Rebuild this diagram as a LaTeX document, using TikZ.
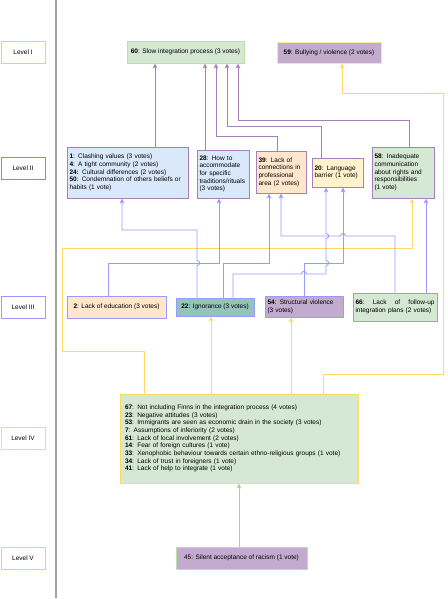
\documentclass[tikz,border=0pt]{standalone}
\usepackage{fontspec}
\setmainfont{Liberation Sans}
\usetikzlibrary{arrows.meta}
\definecolor{sepgray}{HTML}{A3A3A3}
\definecolor{greenfill}{HTML}{D5E8D4}
\definecolor{greenline}{HTML}{B9E0A5}
\definecolor{greenarrow}{HTML}{A9D18E}
\definecolor{purplefill}{HTML}{C3ABD0}
\definecolor{mauveline}{HTML}{A680B8}
\definecolor{bluefill}{HTML}{DAE8FC}
\definecolor{blueline}{HTML}{9999FF}
\definecolor{orangefill}{HTML}{FFE6CC}
\definecolor{yellowfill}{HTML}{FFF2CC}
\definecolor{yellowline}{HTML}{FFD966}
\definecolor{paleyellow}{HTML}{FFE599}
\definecolor{tealfill}{HTML}{93C4B9}
\tikzset{
  small/.style={font=\fontsize{6.5}{7.7}\selectfont},
  lvl/.style={small, draw, line width=0.8pt, fill=white, minimum width=44pt, minimum height=22pt, inner sep=0pt},
  box/.style={small, draw, line width=0.9pt, inner xsep=2.5pt, inner ysep=1pt},
  multi/.style={box, align=left},
  tip/.style={-{Stealth[length=5pt,width=4.5pt,inset=1.2pt]}, line width=0.9pt},
  parr/.style={tip, draw=mauveline},
  barr/.style={tip, draw=blueline},
  yarr/.style={tip, draw=yellowline},
  garr/.style={tip, draw=greenarrow}
}
\begin{document}
\begin{tikzpicture}[x=1pt,y=-1pt]
    \useasboundingbox (0,0) rectangle (447,599);
    \draw[sepgray, line width=1.2pt] (56,0) -- (56,598);
    \foreach \lab/\y/\col [count=\k] in {I/52/greenline, II/168/mauveline, III/307/blueline, IV/438.5/yellowline, V/558/greenline}
      \node[lvl, draw=\col] (lv\k) at (23,\y) {Level \lab};
    \node[box, fill=greenfill, draw=greenline, minimum width=117pt, minimum height=22pt] (n60) at (185.5,52) {\textbf{60}: Slow integration process (3 votes)};
    \node[box, fill=purplefill, draw=paleyellow, minimum width=104pt, minimum height=21pt] (n59) at (329,52.5) {\textbf{59}: Bullying / violence (2 votes)};
    \node[multi, fill=bluefill, draw=mauveline, text width=116pt, minimum height=51pt] (n1) at (127.5,172.5) {\textbf{1}: Clashing values (3 votes)\\ \textbf{4}: A tight community (2 votes)\\ \textbf{24:} Cultural differences (2 votes)\\ \textbf{50}: Condemnation of others beliefs or\\ habits (1 vote)};
    \node[multi, fill=bluefill, draw=mauveline, text width=47pt, minimum height=48pt] (n28) at (223,174) {\textbf{28}: How to\\ accommodate\\ for specific\\ traditions/rituals\\ (3 votes)};
    \node[multi, fill=orangefill, draw=mauveline, text width=45pt, minimum height=42pt] (n39) at (281,172) {\textbf{39}: Lack of\\ connections in\\ professional\\ area (2 votes)};
    \node[multi, fill=yellowfill, draw=mauveline, text width=46pt, minimum height=29pt] (n20) at (337.5,172.5) {\textbf{20}: Language\\ barrier (1 vote)};
    \node[multi, fill=greenfill, draw=mauveline, text width=57pt, minimum height=51pt] (n58) at (403,172.5) {\textbf{58}: Inadequate\\ communication\\ about rights and\\ responsibilities\\ (1 vote)};
    \node[box, fill=orangefill, draw=blueline, minimum width=99pt, minimum height=22pt] (n2) at (116.5,307) {\textbf{2}: Lack of education (3 votes)};
    \node[box, fill=tealfill, draw=blueline, minimum width=78pt, minimum height=18pt] (n22) at (215,307) {\textbf{22}: Ignorance (3 votes)};
    \node[multi, fill=purplefill, draw=blueline, text width=73pt, minimum height=21pt] (n54) at (304,306.5) {\textbf{54}: Structural violence\\ (3 votes)};
    \node[multi, fill=greenfill, draw=blueline, text width=79pt, minimum height=28pt] (n66) at (395,307) {\textbf{66}:\hfill Lack\hfill of\hfill follow-up\\ integration plans (2 votes)};
    \node[multi, fill=greenfill, draw=yellowline, inner xsep=5pt, text width=228pt, minimum height=89pt] (n67) at (239,438.5) {\textbf{67}: Not including Finns in the integration process (4 votes)\\ \textbf{23}: Negative attitudes (3 votes)\\ \textbf{53}: Immigrants are seen as economic drain in the society (3 votes)\\ \textbf{7}: Assumptions of inferiority (2 votes)\\ \textbf{61}: Lack of local involvement (2 votes)\\ \textbf{14}: Fear of foreign cultures (1 vote)\\ \textbf{33}: Xenophobic behaviour towards certain ethno-religious groups (1 vote)\\ \textbf{34}: Lack of trust in foreigners (1 vote)\\ \textbf{41}: Lack of help to integrate (1 vote)};
    \node[box, fill=purplefill, draw=greenline, minimum width=131pt, minimum height=22pt] (n45) at (241.5,558) {45: Silent acceptance of racism (1 vote)};
    \draw[parr] ([xshift=27.5pt]n1.north) -- ([xshift=27.5pt]n1.north |- n60.south);
    \draw[parr] ([xshift=-18pt]n28.north) -- ([xshift=-18pt]n28.north |- n60.south);
    \draw[parr] ([xshift=-4pt]n39.north) -- (277,136) -| ([xshift=30.5pt]n60.south);
    \draw[parr] ([xshift=-16.5pt]n20.north) -- (321,126) -| ([xshift=41.5pt]n60.south);
    \draw[parr] ([xshift=6pt]n58.north) -- (409,120) -| ([xshift=52.5pt]n60.south);
    \draw[yarr] ([xshift=84pt]n67.north) -- (323,374) -- (443,374) -- (443,93) -| ([xshift=13pt]n59.south);
    \draw[yarr] ([xshift=-95pt]n67.north) -- (144,351) -- (62,351) -- (62,248) -| ([xshift=9pt]n58.south);
    \draw[yarr] ([xshift=-28pt]n67.north) -- ([xshift=-28pt]n67.north |- n22.south);
    \draw[yarr] ([xshift=52pt]n67.north) -- ([xshift=52pt]n67.north |- n54.south);
    \draw[barr] ([xshift=-18pt]n22.north) -- (197,265.5) .. controls (200.5,265.5) and (200.5,260.5) .. (197,260.5) -- (197,230) -| ([xshift=-5.5pt]n1.south);
    \draw[barr] ([xshift=-8.5pt]n2.north) -- (108,263) -| ([xshift=-4pt]n28.south);
    \draw[barr] ([xshift=8pt]n22.north) -- (223,263) -| ([xshift=-12pt]n39.south);
    \draw[barr] ([xshift=18pt]n22.north) -- (233,274) -- (301.5,274) .. controls (301.5,270.5) and (306.5,270.5) .. (306.5,274) -- (326,274) -- (326,265.5) .. controls (329.5,265.5) and (329.5,260.5) .. (326,260.5) -- (326,238.5) .. controls (329.5,238.5) and (329.5,233.5) .. (326,233.5) -- ([xshift=-11.5pt]n20.south);
    \draw[barr] (n54.north) -- (304,263) -| ([xshift=5.5pt]n20.south);
    \draw[barr] (n66.north) -- (395,236) -- (345.5,236) .. controls (345.5,232.5) and (340.5,232.5) .. (340.5,236) -| (n39.south);
    \draw[barr] ([xshift=31pt]n66.north) -- ([xshift=31pt]n66.north |- n58.south);
    \draw[garr] (n45.north -| n67.south) -- (n67.south);
  \end{tikzpicture}
\end{document}
